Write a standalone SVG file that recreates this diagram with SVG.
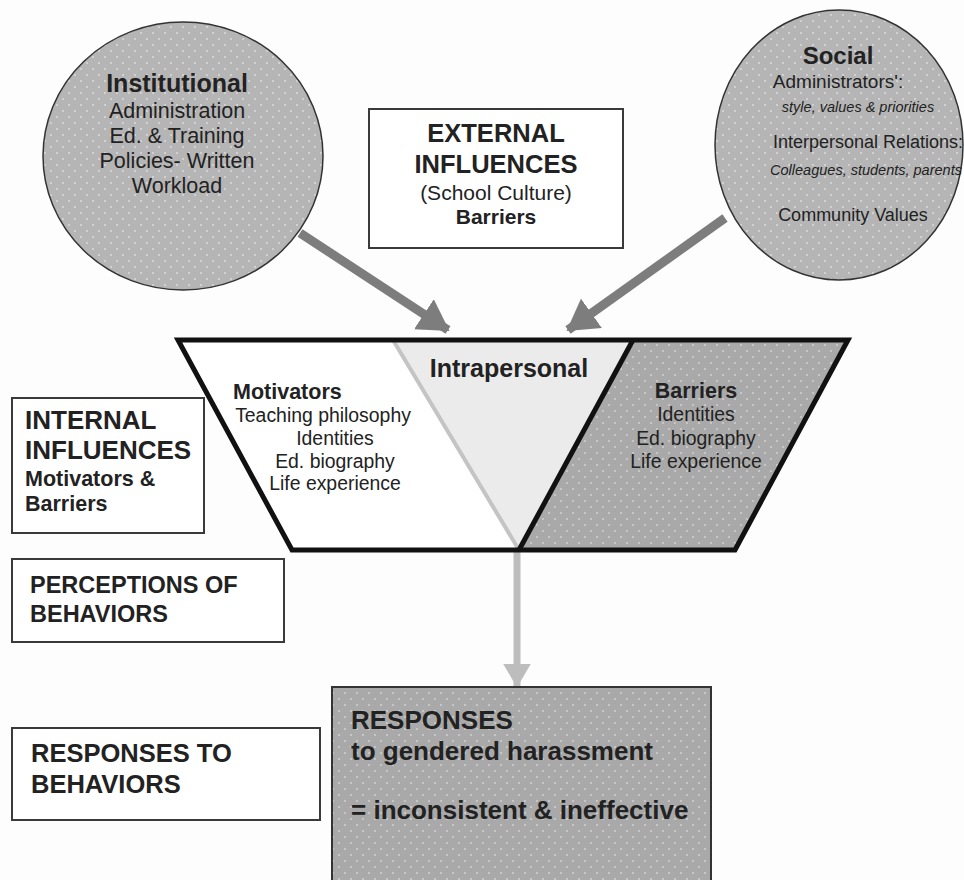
<svg xmlns="http://www.w3.org/2000/svg" width="964" height="880" viewBox="0 0 964 880">
<defs>
<pattern id="dotsA" width="12" height="12" patternUnits="userSpaceOnUse">
<rect width="12" height="12" fill="#b5b5b5"/>
<circle cx="3" cy="3" r="1.1" fill="#d8d8d8"/>
<circle cx="9" cy="9" r="1.1" fill="#d8d8d8"/>
</pattern>
<pattern id="dotsB" width="12" height="12" patternUnits="userSpaceOnUse">
<rect width="12" height="12" fill="#a9a9a9"/>
<circle cx="3" cy="3" r="1.1" fill="#cdcdcd"/>
<circle cx="9" cy="9" r="1.1" fill="#cdcdcd"/>
</pattern>
<marker id="headDark" markerWidth="4" markerHeight="4" refX="3.2" refY="2" orient="auto" markerUnits="strokeWidth">
<path d="M0,0 L3.4,2 L0,4 Z" fill="#7d7d7d"/>
</marker>
<marker id="headLight" markerWidth="4" markerHeight="4" refX="3.2" refY="2" orient="auto" markerUnits="strokeWidth">
<path d="M0,0 L3.4,2 L0,4 Z" fill="#bdbdbd"/>
</marker>
<style>
text{font-family:"Liberation Sans",Arial,sans-serif;fill:#222}
.b{font-weight:bold}
.i{font-style:italic}
.c{text-anchor:middle}
.box{fill:#ffffff;stroke:#3a3a3a;stroke-width:2}
.circ{fill:url(#dotsA);stroke:#333;stroke-width:1.5}
</style>
</defs>
<rect width="964" height="880" fill="#fdfdfd"/>

<g id="institutional">
<ellipse class="circ" cx="183" cy="156" rx="140" ry="134"/>
<text class="b c" x="177" y="92" font-size="25">Institutional</text>
<text class="c" x="177" y="118" font-size="21.5">Administration</text>
<text class="c" x="177" y="143" font-size="21.5">Ed. &amp; Training</text>
<text class="c" x="177" y="168" font-size="21.5">Policies- Written</text>
<text class="c" x="177" y="193" font-size="21.5">Workload</text>
</g>

<g id="social">
<ellipse class="circ" cx="839" cy="145" rx="124" ry="135"/>
<text class="b c" x="838" y="64" font-size="24">Social</text>
<text class="c" x="838" y="88" font-size="19">Administrators':</text>
<text class="i c" x="858" y="112" font-size="14.5">style, values &amp; priorities</text>
<text class="c" x="868" y="148" font-size="18">Interpersonal Relations:</text>
<text class="i c" x="866" y="175" font-size="14.5">Colleagues, students, parents</text>
<text class="c" x="853" y="221" font-size="18">Community Values</text>
</g>

<g id="external">
<rect class="box" x="369" y="109" width="254" height="139"/>
<text class="b c" x="496" y="142" font-size="25.5">EXTERNAL</text>
<text class="b c" x="496" y="173" font-size="25.5">INFLUENCES</text>
<text class="c" x="496" y="200" font-size="21">(School Culture)</text>
<text class="b c" x="496" y="224" font-size="21">Barriers</text>
</g>

<g id="connectors">
<line x1="300" y1="233" x2="448" y2="330" stroke="#7d7d7d" stroke-width="9" marker-end="url(#headDark)"/>
<line x1="725" y1="218" x2="568" y2="330" stroke="#7d7d7d" stroke-width="9" marker-end="url(#headDark)"/>
<line x1="517" y1="552" x2="517" y2="686" stroke="#bdbdbd" stroke-width="7" marker-end="url(#headLight)"/>
</g>

<g id="intrapersonal">
<polygon points="178,340 393,340 519,550 292,550" fill="#ffffff"/>
<polygon points="393,340 633,340 519,550" fill="#ebebeb"/>
<polygon points="633,340 848,340 735,550 519,550" fill="url(#dotsB)"/>
<line x1="393" y1="340" x2="519" y2="550" stroke="#c4c4c4" stroke-width="4"/>
<line x1="633" y1="340" x2="519" y2="550" stroke="#111" stroke-width="5"/>
<polygon points="178,340 848,340 735,550 292,550" fill="none" stroke="#111" stroke-width="5" stroke-linejoin="miter"/>
<text class="b c" x="509" y="377" font-size="25">Intrapersonal</text>
<text class="b" x="233" y="399" font-size="21.5">Motivators</text>
<text class="c" x="323" y="422" font-size="19.4">Teaching philosophy</text>
<text class="c" x="335" y="445" font-size="19.4">Identities</text>
<text class="c" x="335" y="468" font-size="19.4">Ed. biography</text>
<text class="c" x="335" y="490" font-size="19.4">Life experience</text>
<text class="b c" x="696" y="398" font-size="21.5">Barriers</text>
<text class="c" x="696" y="421" font-size="19.4">Identities</text>
<text class="c" x="696" y="445" font-size="19.4">Ed. biography</text>
<text class="c" x="696" y="468" font-size="19.4">Life experience</text>
</g>

<g id="internal">
<rect class="box" x="12" y="398" width="192" height="135"/>
<text class="b" x="25" y="429" font-size="26">INTERNAL</text>
<text class="b" x="25" y="459" font-size="26">INFLUENCES</text>
<text class="b" x="25" y="486" font-size="21.5">Motivators &amp;</text>
<text class="b" x="25" y="511" font-size="21.5">Barriers</text>
</g>

<g id="perceptions">
<rect class="box" x="12" y="559" width="272" height="83"/>
<text class="b" x="30" y="593" font-size="23.5">PERCEPTIONS OF</text>
<text class="b" x="30" y="622" font-size="23.5">BEHAVIORS</text>
</g>

<g id="responses-to">
<rect class="box" x="12" y="728" width="308" height="92"/>
<text class="b" x="31" y="762" font-size="25.5">RESPONSES TO</text>
<text class="b" x="31" y="793" font-size="25.5">BEHAVIORS</text>
</g>

<g id="responses">
<rect x="332" y="687" width="379" height="200" fill="url(#dotsB)" stroke="#333" stroke-width="2"/>
<text class="b" x="351" y="729" font-size="26">RESPONSES</text>
<text class="b" x="351" y="760" font-size="26">to gendered harassment</text>
<text class="b" x="351" y="819" font-size="26">= inconsistent &amp; ineffective</text>
</g>
</svg>
